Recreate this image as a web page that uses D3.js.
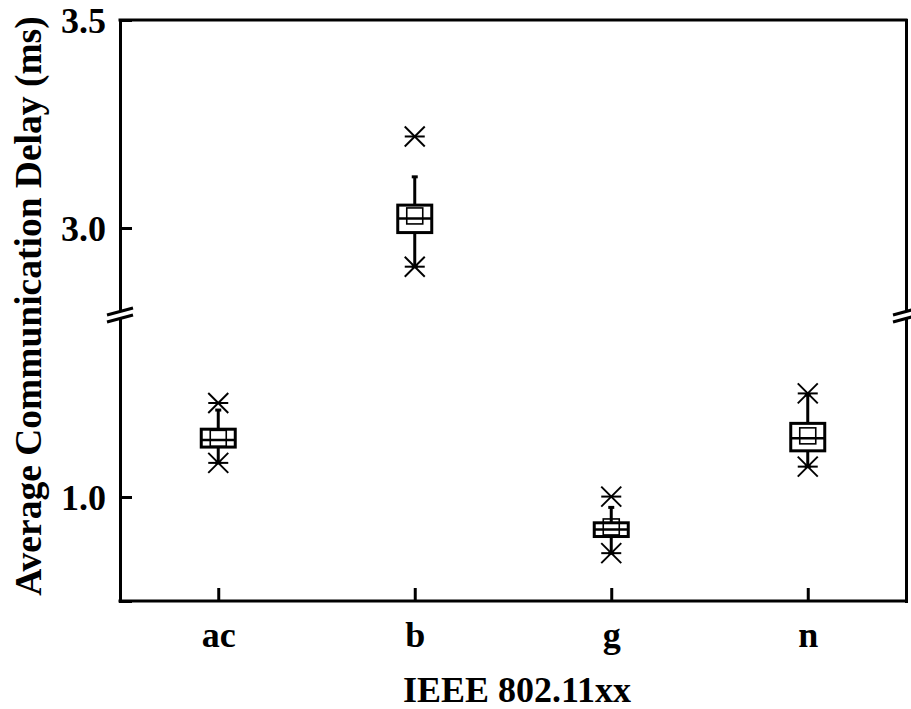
<!DOCTYPE html>
<html>
<head>
<meta charset="utf-8">
<script src="https://cdn.jsdelivr.net/npm/d3@7"></script>
<style>
  body { margin: 0; background: #fff; }
  text { font-family: "Liberation Serif", "Times New Roman", serif; font-weight: bold; fill: #000; }
</style>
</head>
<body>
<svg id="chart"></svg>
<script>
// IEEE standards on the x axis
const categories = ["ac", "b", "g", "n"];
// box statistics (ms)
const q1Values     = [1.120, 2.989, 0.905, 1.111];
const medianValues = [1.137, 3.023, 0.922, 1.141];
const q3Values     = [1.163, 3.055, 0.938, 1.177];
const meanValues   = [1.141, 3.029, 0.928, 1.147];
const whiskerLow   = [1.082, 2.907, 0.865, 1.073];
const whiskerHigh  = [1.209, 3.123, 0.975, 1.245];
const minValues    = [1.082, 2.907, 0.865, 1.073];
const maxValues    = [1.226, 3.220, 1.001, 1.249];
// y axis ticks on each side of the break
const lowerTicks = [1.0, 1.25];
const upperTicks = [3.0, 3.25, 3.5];
const labelTicks = [1.0, 3.0, 3.5];

const width = 911, height = 709;
const plotL = 120, plotR = 906, plotT = 20, plotB = 601, breakY = 314;

const svg = d3.select("#chart").attr("width", width).attr("height", height);

const x = d3.scalePoint().domain(categories).range([plotL, plotR]).padding(0.5);

// broken y axis: two linear segments with the same px/unit
const yLow = d3.scaleLinear().domain([0.75, 0.75 + (plotB - breakY) / 416]).range([plotB, breakY]);
const yHigh = d3.scaleLinear().domain([3.0 - (breakY - 228) / 416, 3.5]).range([breakY, plotT]);
const y = v => v > 2 ? yHigh(v) : yLow(v);

const data = categories.map((c, i) => ({
  cat: c, q1: q1Values[i], med: medianValues[i], q3: q3Values[i], mean: meanValues[i],
  wlo: whiskerLow[i], whi: whiskerHigh[i], min: minValues[i], max: maxValues[i]
}));

const fmt = d => labelTicks.includes(d) ? d3.format(".1f")(d) : "";

// left axis, two segments
function leftAxis(scale, ticks) {
  const g = svg.append("g")
    .attr("transform", `translate(${plotL},0)`)
    .call(d3.axisLeft(scale).tickValues(ticks).tickSizeOuter(0).tickSize(-12).tickPadding(14).tickFormat(fmt));
  g.selectAll("line").attr("stroke-width", 3)
    .attr("x2", d => labelTicks.includes(d) ? 12 : 2);
  g.selectAll("text").style("font-size", "36px").attr("dy", "0.34em");
  g.select(".domain").attr("stroke-width", 3);
}
leftAxis(yLow, lowerTicks);
leftAxis(yHigh, upperTicks);

// right axis, mirror with small ticks
function rightAxis(scale, ticks) {
  const g = svg.append("g")
    .attr("transform", `translate(${plotR},0)`)
    .call(d3.axisRight(scale).tickValues(ticks).tickSizeOuter(0).tickSize(2).tickFormat(""));
  g.selectAll("line").attr("stroke-width", 2);
  g.select(".domain").attr("stroke-width", 3);
}
rightAxis(yLow, lowerTicks);
rightAxis(yHigh, upperTicks);

// bottom axis
const xg = svg.append("g")
  .attr("transform", `translate(0,${plotB})`)
  .call(d3.axisBottom(x).tickSizeOuter(0).tickSize(-13).tickPadding(20));
xg.selectAll("line").attr("stroke-width", 3);
xg.select(".domain").attr("d", `M${plotL - 1.5},0H${plotR + 1.5}`).attr("stroke-width", 3);
xg.selectAll("text").style("font-size", "36px");

// top frame
svg.append("line").attr("x1", plotL - 1.5).attr("x2", plotR + 1.5).attr("y1", plotT).attr("y2", plotT)
  .attr("stroke", "#000").attr("stroke-width", 3);

// break marks
[plotL, plotR].forEach(ax => {
  svg.append("path")
    .attr("d", `M${ax - 13},${breakY + 1}L${ax + 13},${breakY - 6}L${ax + 13},${breakY + 1}L${ax - 13},${breakY + 8}Z`)
    .attr("fill", "#fff");
  [0, 7].forEach(o => {
    svg.append("line")
      .attr("x1", ax - 13).attr("y1", breakY + 1 + o)
      .attr("x2", ax + 13).attr("y2", breakY - 6 + o)
      .attr("stroke", "#000").attr("stroke-width", 3);
  });
});

// boxes
const boxW = 34, meanS = 16, capW = 6, starR = 10;
const box = svg.append("g").selectAll("g").data(data).join("g")
  .attr("transform", d => `translate(${x(d.cat)},0)`);

box.append("line").attr("y1", d => y(d.q3)).attr("y2", d => y(d.whi))
  .attr("stroke", "#000").attr("stroke-width", 3);
box.append("line").attr("y1", d => y(d.q1)).attr("y2", d => y(d.wlo))
  .attr("stroke", "#000").attr("stroke-width", 3);
box.append("line").attr("x1", -capW / 2).attr("x2", capW / 2)
  .attr("y1", d => y(d.whi)).attr("y2", d => y(d.whi))
  .attr("stroke", "#000").attr("stroke-width", 3);
box.append("line").attr("x1", -capW / 2).attr("x2", capW / 2)
  .attr("y1", d => y(d.wlo)).attr("y2", d => y(d.wlo))
  .attr("stroke", "#000").attr("stroke-width", 3);

box.append("rect")
  .attr("x", -boxW / 2).attr("width", boxW)
  .attr("y", d => y(d.q3)).attr("height", d => y(d.q1) - y(d.q3))
  .attr("fill", "#fff").attr("stroke", "#000").attr("stroke-width", 3);
box.append("line").attr("x1", -boxW / 2).attr("x2", boxW / 2)
  .attr("y1", d => y(d.med)).attr("y2", d => y(d.med))
  .attr("stroke", "#000").attr("stroke-width", 2.5);
box.append("rect")
  .attr("x", -meanS / 2).attr("width", meanS)
  .attr("y", d => y(d.mean) - meanS / 2).attr("height", meanS)
  .attr("fill", "none").attr("stroke", "#000").attr("stroke-width", 1.6);

// min / max markers
function star(sel, key) {
  const g = sel.append("g").attr("transform", d => `translate(0,${y(d[key])})`)
    .attr("stroke", "#000").attr("stroke-width", 2);
  g.append("line").attr("x1", -starR).attr("y1", -starR).attr("x2", starR).attr("y2", starR);
  g.append("line").attr("x1", -starR).attr("y1", starR).attr("x2", starR).attr("y2", -starR);
  g.append("line").attr("x1", -starR).attr("y1", 0).attr("x2", starR).attr("y2", 0);
}
star(box, "max");
star(box, "min");

// axis titles
svg.append("text")
  .attr("x", (plotL + plotR) / 2 + 4).attr("y", 702)
  .attr("text-anchor", "middle").style("font-size", "36px")
  .text("IEEE 802.11xx");
svg.append("text")
  .attr("transform", `translate(41,${(plotT + 592) / 2}) rotate(-90)`)
  .attr("text-anchor", "middle").style("font-size", "37.5px")
  .text("Average Communication Delay (ms)");
</script>
</body>
</html>
